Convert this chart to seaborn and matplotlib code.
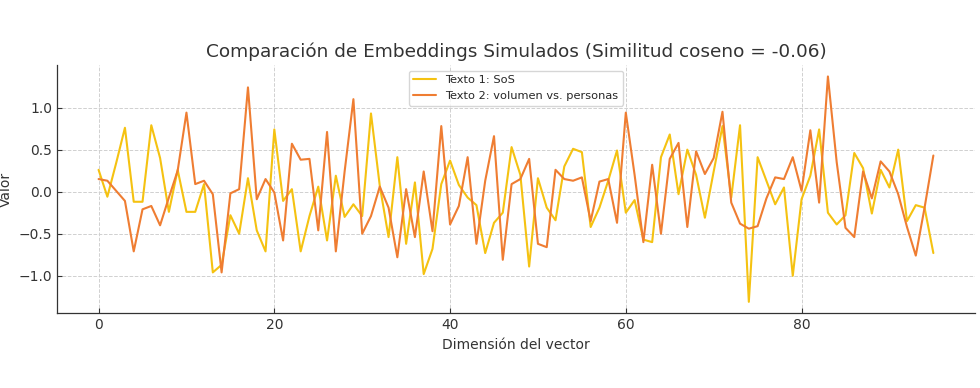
import matplotlib
matplotlib.use("Agg")
import matplotlib.pyplot as plt
import seaborn as sns
import pandas as pd
import numpy as np

texto1 = [0.26, -0.06, 0.34, 0.76, -0.12, -0.12, 0.79, 0.40, -0.24, 0.26,
          -0.24, -0.24, 0.09, -0.96, -0.87, -0.28, -0.50, 0.16, -0.46, -0.71,
          0.74, -0.11, 0.03, -0.71, -0.29, 0.06, -0.58, 0.19, -0.30, -0.15,
          -0.29, 0.93, 0.07, -0.54, 0.41, -0.62, 0.11, -0.98, -0.68, 0.09,
          0.37, 0.08, -0.07, -0.16, -0.73, -0.37, -0.25, 0.53, 0.20, -0.89,
          0.16, -0.19, -0.34, 0.30, 0.51, 0.47, -0.42, -0.19, 0.13, 0.49,
          -0.25, -0.10, -0.57, -0.60, 0.41, 0.68, -0.03, 0.50, 0.20, -0.31,
          0.24, 0.78, -0.07, 0.79, -1.31, 0.41, 0.13, -0.15, 0.05, -1.00,
          -0.09, 0.19, 0.74, -0.25, -0.39, -0.28, 0.46, 0.28, -0.26, 0.26,
          0.05, 0.50, -0.35, -0.16, -0.19, -0.73]

texto2 = [0.15, 0.13, 0.01, -0.11, -0.71, -0.21, -0.17, -0.40, -0.07, 0.25,
          0.94, 0.09, 0.13, -0.03, -0.96, -0.02, 0.03, 1.24, -0.09, 0.15,
          -0.01, -0.58, 0.57, 0.38, 0.39, -0.46, 0.71, -0.71, 0.24, 1.10,
          -0.50, -0.29, 0.06, -0.19, -0.78, 0.03, -0.54, 0.24, -0.47, 0.78,
          -0.39, -0.17, 0.41, -0.62, 0.13, 0.66, -0.81, 0.09, 0.15, 0.39,
          -0.62, -0.66, 0.26, 0.15, 0.13, 0.17, -0.35, 0.12, 0.15, -0.37,
          0.94, 0.20, -0.60, 0.32, -0.50, 0.39, 0.58, -0.42, 0.48, 0.21,
          0.40, 0.95, -0.13, -0.38, -0.44, -0.41, -0.08, 0.17, 0.15, 0.41,
          0.01, 0.73, -0.13, 1.37, 0.35, -0.43, -0.54, 0.24, -0.08, 0.36,
          0.24, -0.03, -0.42, -0.76, -0.19, 0.43]

labels = ["Texto 1: SoS", "Texto 2: volumen vs. personas"]
colors = ["#F5C211", "#EF7D32"]

dims = list(range(len(texto1)))
df = pd.DataFrame({
    "Dimensión del vector": dims * 2,
    "Valor": texto1 + texto2,
    "Serie": [labels[0]] * len(texto1) + [labels[1]] * len(texto2),
})

sns.set_style("white")
plt.rcParams['font.family'] = ['DejaVu Sans']

fig, ax = plt.subplots(figsize=(9.8, 3.88), dpi=100)
sns.lineplot(data=df, x="Dimensión del vector", y="Valor", hue="Serie",
             palette=colors, linewidth=1.5, ax=ax)

ax.grid(True, linestyle="--", color="#d0d0d0", linewidth=0.7)
ax.set_title("Comparación de Embeddings Simulados (Similitud coseno = -0.06)",
             fontsize=13.3, color="#333333")
ax.set_xlabel("Dimensión del vector", fontsize=10, color="#333333")
ax.set_ylabel("Valor", fontsize=10, color="#333333")
ax.set_xticks([0, 20, 40, 60, 80])
ax.set_yticks([-1.0, -0.5, 0.0, 0.5, 1.0])
ax.tick_params(labelsize=10, colors="#333333", length=3.5, direction="in",
               left=True, bottom=True)
for s in ["top", "right"]:
    ax.spines[s].set_visible(False)
for s in ["left", "bottom"]:
    ax.spines[s].set_color("#333333")
    ax.spines[s].set_linewidth(0.9)

leg = ax.legend(loc="upper center", fontsize=8.2, frameon=True)
leg.set_title(None)

fig.subplots_adjust(left=0.058, right=0.995, top=0.832, bottom=0.193)
fig.savefig("out.png", dpi=100)
